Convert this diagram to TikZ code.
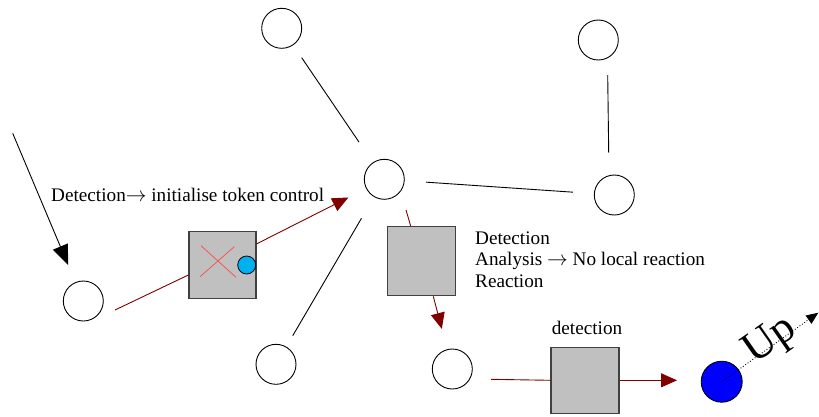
\documentclass[tikz,border=0pt]{standalone}
\usepackage{fontspec}
\setmainfont{Liberation Serif}
\usetikzlibrary{arrows.meta,calc}
\definecolor{boxgray}{HTML}{C0C0C0}
\definecolor{darkred}{HTML}{800000}
\definecolor{crossred}{HTML}{FF4848}
\definecolor{tokencyan}{HTML}{00B0F0}
\newcommand{\toarrow}{$\rightarrow$}
\begin{document}
\begin{tikzpicture}[x=1pt,y=-1pt,
  hostnode/.style={circle,draw=black,line width=0.9pt,minimum size=40pt,inner sep=0pt},
  grayblock/.style={rectangle,draw=black!75,fill=boxgray,line width=1.3pt,inner sep=0pt},
  link/.style={draw=black,line width=0.9pt},
  redlink/.style={draw=darkred,line width=0.9pt},
  redarrow/.style={redlink,-{Triangle[length=16pt,width=14pt]},color=darkred},
  lbl/.style={font=\fontsize{19.2}{21.5}\selectfont,inner sep=0pt}
]
\useasboundingbox (0,0) rectangle (819,416);

% network hosts
\node[hostnode] (A) at (281.7,28.3) {};
\node[hostnode] (B) at (598.3,40) {};
\node[hostnode] (C) at (384.3,179.3) {};
\node[hostnode] (D) at (614.3,195) {};
\node[hostnode] (E) at (83.3,301) {};
\node[hostnode] (F) at (276,364.3) {};
\node[hostnode] (G) at (452.3,369) {};
\node[circle,draw=black,fill=blue,line width=0.9pt,minimum size=41pt,inner sep=0pt] (H) at (721.7,381.7) {};

% processing blocks
\node[grayblock,minimum size=67pt] (b1) at (222.5,264.7) {};
\node[grayblock,minimum width=68pt,minimum height=69pt] (b2) at (421.5,261.2) {};
\node[grayblock,minimum width=68pt,minimum height=66pt] (b3) at (585,380.3) {};

% cross and token marker inside the first block
\draw[crossred,line width=0.7pt] ($(b1.center)+(-21.5,-19)$) -- ($(b1.center)+(13.5,12.6)$);
\draw[crossred,line width=0.7pt] ($(b1.center)+(11.8,-18)$) -- ($(b1.center)+(-22.5,12)$);
\node[circle,draw=black,fill=tokencyan,line width=0.8pt,minimum size=18pt,inner sep=0pt] (tok) at (246.7,265) {};

% network links
\draw[link,shorten <=15pt,shorten >=24.6pt] (A) -- (C);
\draw[link,shorten <=21.5pt,shorten >=21pt] (C) -- (D);
\draw[link] ($(B.center)+(9.4,35)$) -- ($(D.center)+(-5.6,-42.3)$);
\draw[link,shorten <=24.7pt,shorten >=12.7pt] (C) -- (F);

% incoming detection
\coordinate (src) at (12.7,133.3);
\draw[link,-{Triangle[length=20pt,width=16pt]},shorten >=18.6pt] (src) -- (E);

% token path
\draw[redlink] ($(E.center)+(31.7,9)$) -- ($(b1.west)+(0,10.3)$);
\draw[redarrow,shorten >=19.8pt] ($(b1.north east)+(0,13.3)$) -- (C);
\draw[redlink] ($(C.center)+(21.7,30.7)$) -- ($(b2.north)+(-10.8,0)$);
\draw[redarrow,shorten >=21pt] ($(b2.south)+(11.8,0)$) -- (G);
\draw[redlink] ($(G.center)+(38.7,10.3)$) -- (b3.west);
\draw[redarrow,shorten >=23.7pt] (b3.east) -- (b3.east -| H.west);

% escalation upwards
\coordinate (upend) at (818.3,312.7);
\draw[black,dotted,line width=0.9pt,-{Triangle[length=12pt,width=10pt]}] (H.center) -- (upend);

% labels
\node[lbl,anchor=base west] (t1) at (51,201.7) {Detection\toarrow{} initialise token control};
\node[lbl,anchor=base west,align=left] (t2) at (475,287.3) {Detection\\Analysis \toarrow{} No local reaction\\Reaction};
\node[lbl,anchor=base] (t3) at (587,334) {detection};
\node[font=\fontsize{44}{46}\selectfont,inner sep=0pt,rotate=35] (up) at (771,341) {Up};
\end{tikzpicture}
\end{document}
